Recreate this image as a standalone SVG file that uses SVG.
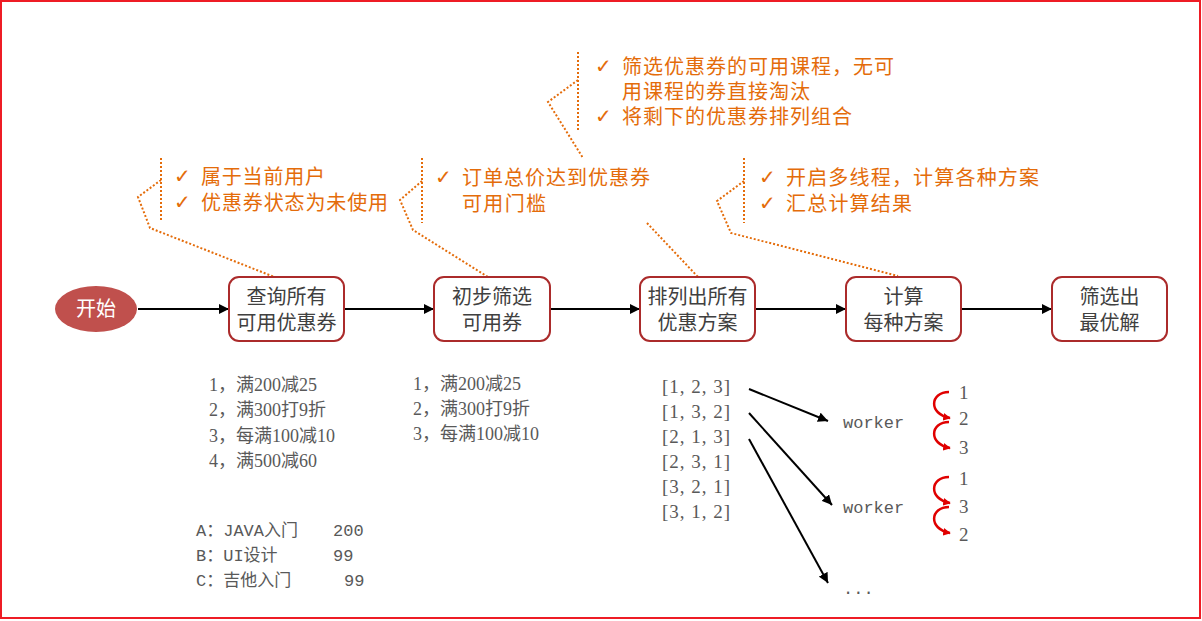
<svg xmlns="http://www.w3.org/2000/svg" width="1202" height="621" viewBox="0 0 1202 621">
<style>
.box{fill:#fff;stroke:#ab2b2b;stroke-width:2}
.bt{font-family:"Noto Sans CJK SC",sans-serif;font-size:20px;fill:#404040;text-anchor:middle}
.co{font-family:"Noto Sans CJK SC",sans-serif;font-size:20px;fill:#e46c0a}
.ck{font-family:"DejaVu Sans",sans-serif;font-size:20px;fill:#e46c0a}
.dot{fill:none;stroke:#e46c0a;stroke-width:2;stroke-dasharray:2 2}
.ln{fill:none;stroke:#000;stroke-width:2}
.lst{font-family:"Liberation Serif","Noto Sans CJK SC",serif;font-size:18px;fill:#595959}
.mono{font-family:"Liberation Mono","Noto Sans CJK SC",monospace;font-size:17px;fill:#595959}
.perm{font-family:"Liberation Serif",serif;font-size:19px;fill:#595959}
.red{fill:none;stroke:#e00000;stroke-width:2.5}
</style>
<defs>
<marker id="ah" viewBox="0 0 10 10" refX="10" refY="5" markerWidth="5" markerHeight="5" orient="auto" markerUnits="strokeWidth">
<path d="M0,0L10,5L0,10z" fill="#000"/>
</marker>
<marker id="rh" viewBox="0 0 10 10" refX="9" refY="5" markerWidth="3" markerHeight="3" orient="auto" markerUnits="strokeWidth">
<path d="M0,0L10,5L0,10z" fill="#e00000"/>
</marker>
</defs>
<rect x="1" y="1" width="1199" height="617" fill="#fff" stroke="#ee1c25" stroke-width="2"/>

<g id="connectors">
<line class="ln" x1="138" y1="309" x2="229" y2="309" marker-end="url(#ah)"/>
<line class="ln" x1="344" y1="309" x2="434" y2="309" marker-end="url(#ah)"/>
<line class="ln" x1="550" y1="309" x2="640" y2="309" marker-end="url(#ah)"/>
<line class="ln" x1="755" y1="309" x2="846" y2="309" marker-end="url(#ah)"/>
<line class="ln" x1="961" y1="309" x2="1052" y2="309" marker-end="url(#ah)"/>
<path class="dot" d="M161,158V220M161,180L138,197L150,228L277,278"/>
<path class="dot" d="M422,158V223M422,181L400,200L413,230L488,277"/>
<path class="dot" d="M578,52V132M578,80L548,102L583,158M647,223L698,277"/>
<path class="dot" d="M744,158V223M744,181L717,201L731,233L898,276"/>
<line class="ln" x1="749" y1="389" x2="828" y2="421" marker-end="url(#ah)"/>
<line class="ln" x1="749" y1="413" x2="832" y2="505" marker-end="url(#ah)"/>
<line class="ln" x1="749" y1="439" x2="828" y2="583" marker-end="url(#ah)"/>
<path class="red" d="M949,392C930,392 928,414 950,418" marker-end="url(#rh)"/>
<path class="red" d="M949,422C930,422 928,444 950,448" marker-end="url(#rh)"/>
<path class="red" d="M949,477C930,477 928,499 950,503" marker-end="url(#rh)"/>
<path class="red" d="M949,507C930,507 928,529 950,533" marker-end="url(#rh)"/>
</g>

<g id="start">
<ellipse cx="96" cy="309" rx="41" ry="23" fill="#c0504d"/>
<text x="96" y="316" class="bt" style="fill:#fff">开始</text>
</g>
<g id="n1">
<rect class="box" x="229" y="277" width="115" height="64" rx="10"/>
<text class="bt" x="286.5" y="304">查询所有</text>
<text class="bt" x="286.5" y="330">可用优惠券</text>
</g>
<g id="n2">
<rect class="box" x="434" y="277" width="116" height="64" rx="10"/>
<text class="bt" x="492" y="304">初步筛选</text>
<text class="bt" x="492" y="330">可用券</text>
</g>
<g id="n3">
<rect class="box" x="640" y="277" width="115" height="64" rx="10"/>
<text class="bt" x="697.5" y="304">排列出所有</text>
<text class="bt" x="697.5" y="330">优惠方案</text>
</g>
<g id="n4">
<rect class="box" x="846" y="277" width="115" height="64" rx="10"/>
<text class="bt" x="903.5" y="304">计算</text>
<text class="bt" x="903.5" y="330">每种方案</text>
</g>
<g id="n5">
<rect class="box" x="1052" y="277" width="115" height="64" rx="10"/>
<text class="bt" x="1109.5" y="304">筛选出</text>
<text class="bt" x="1109.5" y="330">最优解</text>
</g>

<g id="note1">
<text class="ck" x="174" y="183">✓</text>
<text class="co" x="201" y="184" textLength="124">属于当前用户</text>
<text class="ck" x="174" y="209">✓</text>
<text class="co" x="201" y="210" textLength="187">优惠券状态为未使用</text>
</g>
<g id="note2">
<text class="ck" x="435" y="184">✓</text>
<text class="co" x="462" y="185" textLength="188">订单总价达到优惠券</text>
<text class="co" x="462" y="211" textLength="84">可用门槛</text>
</g>
<g id="note3">
<text class="ck" x="595" y="73">✓</text>
<text class="co" x="622" y="74" textLength="272">筛选优惠券的可用课程，无可</text>
<text class="co" x="622" y="99" textLength="188">用课程的券直接淘汰</text>
<text class="ck" x="595" y="123">✓</text>
<text class="co" x="622" y="124" textLength="230">将剩下的优惠券排列组合</text>
</g>
<g id="note4">
<text class="ck" x="759" y="184">✓</text>
<text class="co" x="786" y="185" textLength="253">开启多线程，计算各种方案</text>
<text class="ck" x="759" y="210">✓</text>
<text class="co" x="786" y="211" textLength="126">汇总计算结果</text>
</g>

<g id="coupons1">
<text class="lst" x="209" y="391">1，满200减25</text>
<text class="lst" x="209" y="416">2，满300打9折</text>
<text class="lst" x="209" y="442">3，每满100减10</text>
<text class="lst" x="209" y="467">4，满500减60</text>
</g>
<g id="coupons2">
<text class="lst" x="413" y="390">1，满200减25</text>
<text class="lst" x="413" y="415">2，满300打9折</text>
<text class="lst" x="413" y="440">3，每满100减10</text>
</g>
<g id="courses">
<text class="mono" x="196" y="536">A：JAVA入门</text><text class="mono" x="333" y="536">200</text>
<text class="mono" x="196" y="561">B：UI设计</text><text class="mono" x="333" y="561">99</text>
<text class="mono" x="196" y="586">C：吉他入门</text><text class="mono" x="344" y="586">99</text>
</g>
<g id="perms">
<text class="perm" x="662" y="393" textLength="68">[1, 2, 3]</text>
<text class="perm" x="662" y="418" textLength="68">[1, 3, 2]</text>
<text class="perm" x="662" y="443" textLength="68">[2, 1, 3]</text>
<text class="perm" x="662" y="468" textLength="68">[2, 3, 1]</text>
<text class="perm" x="662" y="493" textLength="68">[3, 2, 1]</text>
<text class="perm" x="662" y="518" textLength="68">[3, 1, 2]</text>
</g>
<g id="worker1">
<text class="mono" x="843" y="428">worker</text>
<text class="perm" x="959" y="399">1</text>
<text class="perm" x="959" y="425">2</text>
<text class="perm" x="959" y="454">3</text>
</g>
<g id="worker2">
<text class="mono" x="843" y="513">worker</text>
<text class="perm" x="959" y="485">1</text>
<text class="perm" x="959" y="513">3</text>
<text class="perm" x="959" y="541">2</text>
</g>
<g id="more">
<text class="mono" x="843" y="594">...</text>
</g>
</svg>
